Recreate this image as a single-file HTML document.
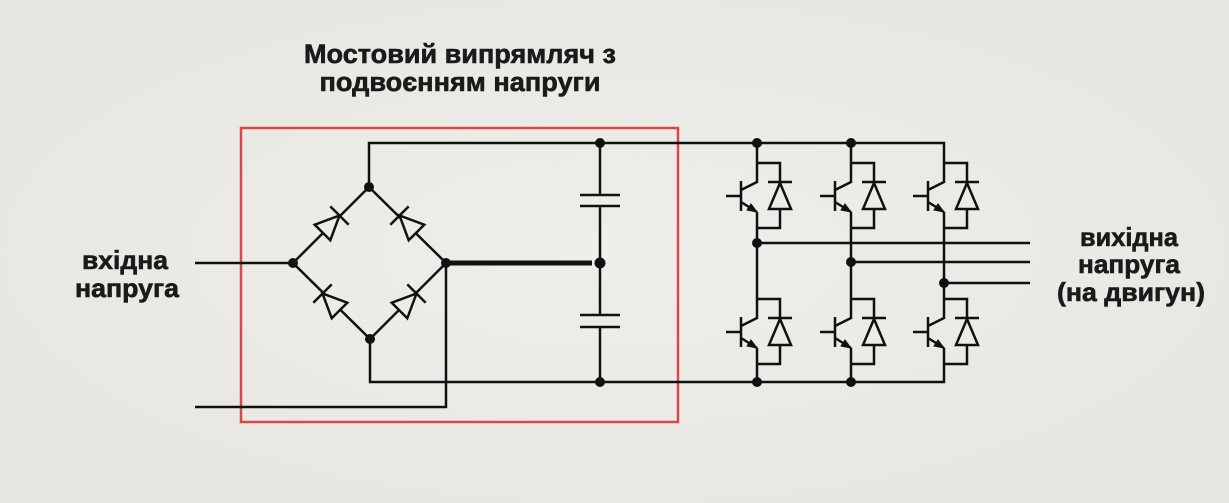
<!DOCTYPE html>
<html><head><meta charset="utf-8"><style>
html,body{margin:0;padding:0;background:#ecebe6;}
svg{display:block}
text{font-family:"Liberation Sans",sans-serif;font-weight:bold;fill:#1a1a1a;stroke:#1a1a1a;stroke-width:0.6;}
</style></head><body>
<svg width="1229" height="503" viewBox="0 0 1229 503" xmlns="http://www.w3.org/2000/svg">
<defs>
<radialGradient id="bg" cx="50%" cy="50%" r="70%">
<stop offset="0" stop-color="#efeeea"/><stop offset="1" stop-color="#e6e5df"/>
</radialGradient>
<g id="dio">
<polygon points="-12,-11 -12,11 12,0" fill="#ecebe6" stroke="#111" stroke-width="2.5" stroke-linejoin="miter"/>
<line x1="12" y1="-13" x2="12" y2="13" stroke="#111" stroke-width="2.5"/>
</g>
<g id="igbt" stroke="#111" stroke-width="2.5" fill="none">
<polyline points="757,163 780,163 780,182"/>
<polyline points="780,209 780,228 757,228"/>
<line x1="768" y1="182" x2="792" y2="182"/>
<polygon points="769,209 791,209 780,183" fill="#ecebe6"/>
<line x1="757" y1="163" x2="757" y2="183"/>
<line x1="757" y1="212" x2="757" y2="228"/>
<line x1="741" y1="181" x2="741" y2="211"/>
<line x1="726" y1="196" x2="741" y2="196"/>
<line x1="741" y1="190" x2="757" y2="182"/>
<line x1="741" y1="202" x2="757" y2="212"/>
<polygon points="757,212 747,210 751,204" fill="#111" stroke-width="1"/>
</g>
</defs>
<rect width="1229" height="503" fill="url(#bg)"/>

<text x="460" y="63" font-size="27" text-anchor="middle" textLength="312" lengthAdjust="spacingAndGlyphs">Мостовий випрямляч з</text>
<text x="460" y="91" font-size="27" text-anchor="middle" textLength="281" lengthAdjust="spacingAndGlyphs">подвоєнням напруги</text>
<text x="125" y="269" font-size="26" text-anchor="middle" textLength="86" lengthAdjust="spacingAndGlyphs">вхідна</text>
<text x="127" y="297" font-size="26" text-anchor="middle" textLength="104" lengthAdjust="spacingAndGlyphs">напруга</text>
<text x="1129" y="246" font-size="26" text-anchor="middle" textLength="98" lengthAdjust="spacingAndGlyphs">вихідна</text>
<text x="1129" y="273" font-size="26" text-anchor="middle" textLength="102" lengthAdjust="spacingAndGlyphs">напруга</text>
<text x="1131" y="301" font-size="26" text-anchor="middle" textLength="148" lengthAdjust="spacingAndGlyphs">(на двигун)</text>

<rect x="241" y="128" width="437" height="294" fill="none" stroke="#d9474a" stroke-width="2.5"/>

<g stroke="#111" stroke-width="2.5" fill="none">
<polyline points="369,187 369,143 944,143 944,163"/>
<polyline points="370,339 370,382 944,382 944,364"/>
<line x1="195" y1="263" x2="293" y2="263"/>
<polyline points="195,407 446,407 446,263"/>
<polygon points="293,263 369,187 446,263 370,339"/>
<line x1="446" y1="263" x2="592" y2="263" stroke-width="5"/>
<line x1="600" y1="143" x2="600" y2="195"/>
<line x1="600" y1="206" x2="600" y2="315"/>
<line x1="600" y1="327" x2="600" y2="382"/>
<line x1="580" y1="195" x2="620" y2="195"/>
<line x1="580" y1="206" x2="620" y2="206"/>
<line x1="580" y1="315" x2="620" y2="315"/>
<line x1="580" y1="327" x2="620" y2="327"/>
<line x1="757" y1="228" x2="757" y2="299"/>
<line x1="851" y1="228" x2="851" y2="299"/>
<line x1="944" y1="228" x2="944" y2="299"/>
<line x1="757" y1="364" x2="757" y2="382"/>
<line x1="851" y1="364" x2="851" y2="382"/>
<line x1="757" y1="143" x2="757" y2="163"/>
<line x1="851" y1="143" x2="851" y2="163"/>
<line x1="757" y1="243" x2="1030" y2="243"/>
<line x1="851" y1="262" x2="1030" y2="262"/>
<line x1="944" y1="283" x2="1030" y2="283"/>
</g>

<use href="#dio" transform="translate(331,224) rotate(-45)"/>
<use href="#dio" transform="translate(408,224) rotate(-135)"/>
<use href="#dio" transform="translate(331,302) rotate(-135)"/>
<use href="#dio" transform="translate(408,302) rotate(-45)"/>

<use href="#igbt"/>
<use href="#igbt" transform="translate(94,0)"/>
<use href="#igbt" transform="translate(187,0)"/>
<use href="#igbt" transform="translate(0,136)"/>
<use href="#igbt" transform="translate(94,136)"/>
<use href="#igbt" transform="translate(187,136)"/>

<g fill="#111">
<circle cx="369" cy="187" r="5"/><circle cx="293" cy="263" r="5"/>
<circle cx="446" cy="263" r="5"/><circle cx="370" cy="339" r="5"/>
<circle cx="600" cy="143" r="5"/><circle cx="600" cy="263" r="5.5"/><circle cx="600" cy="382" r="5"/>
<circle cx="757" cy="143" r="5"/><circle cx="851" cy="143" r="5"/>
<circle cx="757" cy="382" r="5"/><circle cx="851" cy="382" r="5"/>
<circle cx="757" cy="243" r="5"/><circle cx="851" cy="262" r="5"/><circle cx="944" cy="283" r="5"/>
</g>
</svg>
</body></html>
